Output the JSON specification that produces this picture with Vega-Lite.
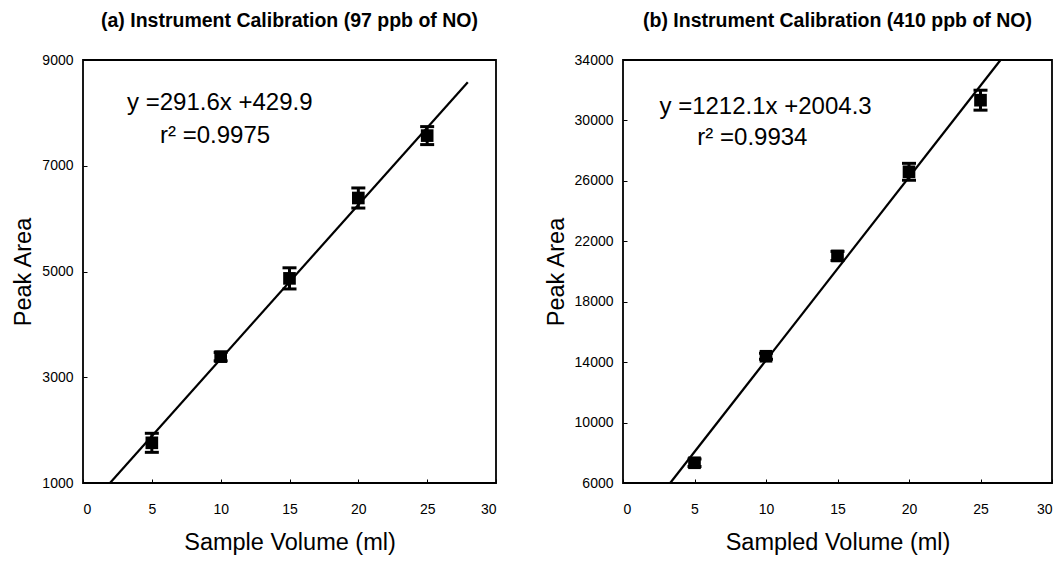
{
  "$schema": "https://vega.github.io/schema/vega-lite/v6.json",
  "background": "white",
  "padding": {"left": 10, "top": 9, "right": 0, "bottom": 0},
  "spacing": 45,
  "config": {
    "font": "Liberation Sans",
    "view": {"stroke": "black", "strokeWidth": 1.8},
    "axis": {
      "domain": false, "grid": false, "tickColor": "black", "tickSize": -4, "tickWidth": 1,
      "labelFont": "Liberation Sans", "labelFontSize": 14, "labelColor": "black", "format": "d",
      "titleFont": "Liberation Sans", "titleFontSize": 23.5, "titleFontWeight": "normal", "titleColor": "black"
    },
    "axisX": {"labelPadding": 23, "titlePadding": 14},
    "axisY": {"labelPadding": 14, "titlePadding": 6},
    "title": {"font": "Liberation Sans", "fontSize": 19.5, "fontWeight": "bold", "color": "black"}
  },
  "datasets": {
    "pa": [
      {"x": 5, "y": 1760, "err": 180},
      {"x": 10, "y": 3390, "err": 80},
      {"x": 15, "y": 4870, "err": 200},
      {"x": 20, "y": 6390, "err": 190},
      {"x": 25, "y": 7570, "err": 170}
    ],
    "fa": [{"x": 1.96, "y": 1000}, {"x": 27.95, "y": 8580}],
    "ta": [
      {"x": 3.2, "y": 8050, "label": "y =291.6x +429.9"},
      {"x": 5.6, "y": 7430, "label": "r² =0.9975"}
    ],
    "pb": [
      {"x": 5, "y": 7340, "err": 250},
      {"x": 10, "y": 14390, "err": 200},
      {"x": 15, "y": 21030, "err": 300},
      {"x": 20, "y": 26600, "err": 560},
      {"x": 25, "y": 31340, "err": 660}
    ],
    "fb": [{"x": 3.3, "y": 6000}, {"x": 26.4, "y": 34000}],
    "tb": [
      {"x": 2.55, "y": 30450, "label": "y =1212.1x +2004.3"},
      {"x": 5.2, "y": 28390, "label": "r² =0.9934"}
    ]
  },
  "hconcat": [
    {
      "width": 413, "height": 423,
      "title": {"text": "(a) Instrument Calibration (97 ppb of NO)", "offset": 22},
      "encoding": {
        "x": {"field": "x", "type": "quantitative", "scale": {"domain": [0, 30], "nice": false},
              "axis": {"values": [0, 5, 10, 15, 20, 25, 30], "title": "Sample Volume (ml)"}},
        "y": {"field": "y", "type": "quantitative", "scale": {"domain": [1000, 9000], "nice": false, "zero": false},
              "axis": {"values": [1000, 3000, 5000, 7000, 9000], "title": "Peak Area"}}
      },
      "layer": [
        {"data": {"name": "fa"}, "mark": {"type": "line", "color": "black", "strokeWidth": 2.2}},
        {"data": {"name": "pa"}, "mark": {"type": "errorbar", "color": "black", "opacity": 1, "rule": {"strokeWidth": 3, "opacity": 1}, "ticks": {"size": 14, "thickness": 3, "opacity": 1}},
         "encoding": {"yError": {"field": "err"}}},
        {"data": {"name": "pa"}, "mark": {"type": "square", "filled": true, "color": "black", "opacity": 1, "size": 160}},
        {"data": {"name": "ta"}, "mark": {"type": "text", "align": "left", "baseline": "alphabetic", "fontSize": 24, "color": "black", "font": "Liberation Sans"},
         "encoding": {"text": {"field": "label"}}}
      ]
    },
    {
      "width": 429, "height": 423,
      "title": {"text": "(b) Instrument Calibration (410 ppb of NO)", "offset": 22},
      "encoding": {
        "x": {"field": "x", "type": "quantitative", "scale": {"domain": [0, 30], "nice": false},
              "axis": {"values": [0, 5, 10, 15, 20, 25, 30], "title": "Sampled Volume (ml)"}},
        "y": {"field": "y", "type": "quantitative", "scale": {"domain": [6000, 34000], "nice": false, "zero": false},
              "axis": {"values": [6000, 10000, 14000, 18000, 22000, 26000, 30000, 34000], "title": "Peak Area"}}
      },
      "layer": [
        {"data": {"name": "fb"}, "mark": {"type": "line", "color": "black", "strokeWidth": 2.2}},
        {"data": {"name": "pb"}, "mark": {"type": "errorbar", "color": "black", "opacity": 1, "rule": {"strokeWidth": 3, "opacity": 1}, "ticks": {"size": 14, "thickness": 3, "opacity": 1}},
         "encoding": {"yError": {"field": "err"}}},
        {"data": {"name": "pb"}, "mark": {"type": "square", "filled": true, "color": "black", "opacity": 1, "size": 160}},
        {"data": {"name": "tb"}, "mark": {"type": "text", "align": "left", "baseline": "alphabetic", "fontSize": 24, "color": "black", "font": "Liberation Sans"},
         "encoding": {"text": {"field": "label"}}}
      ]
    }
  ]
}
